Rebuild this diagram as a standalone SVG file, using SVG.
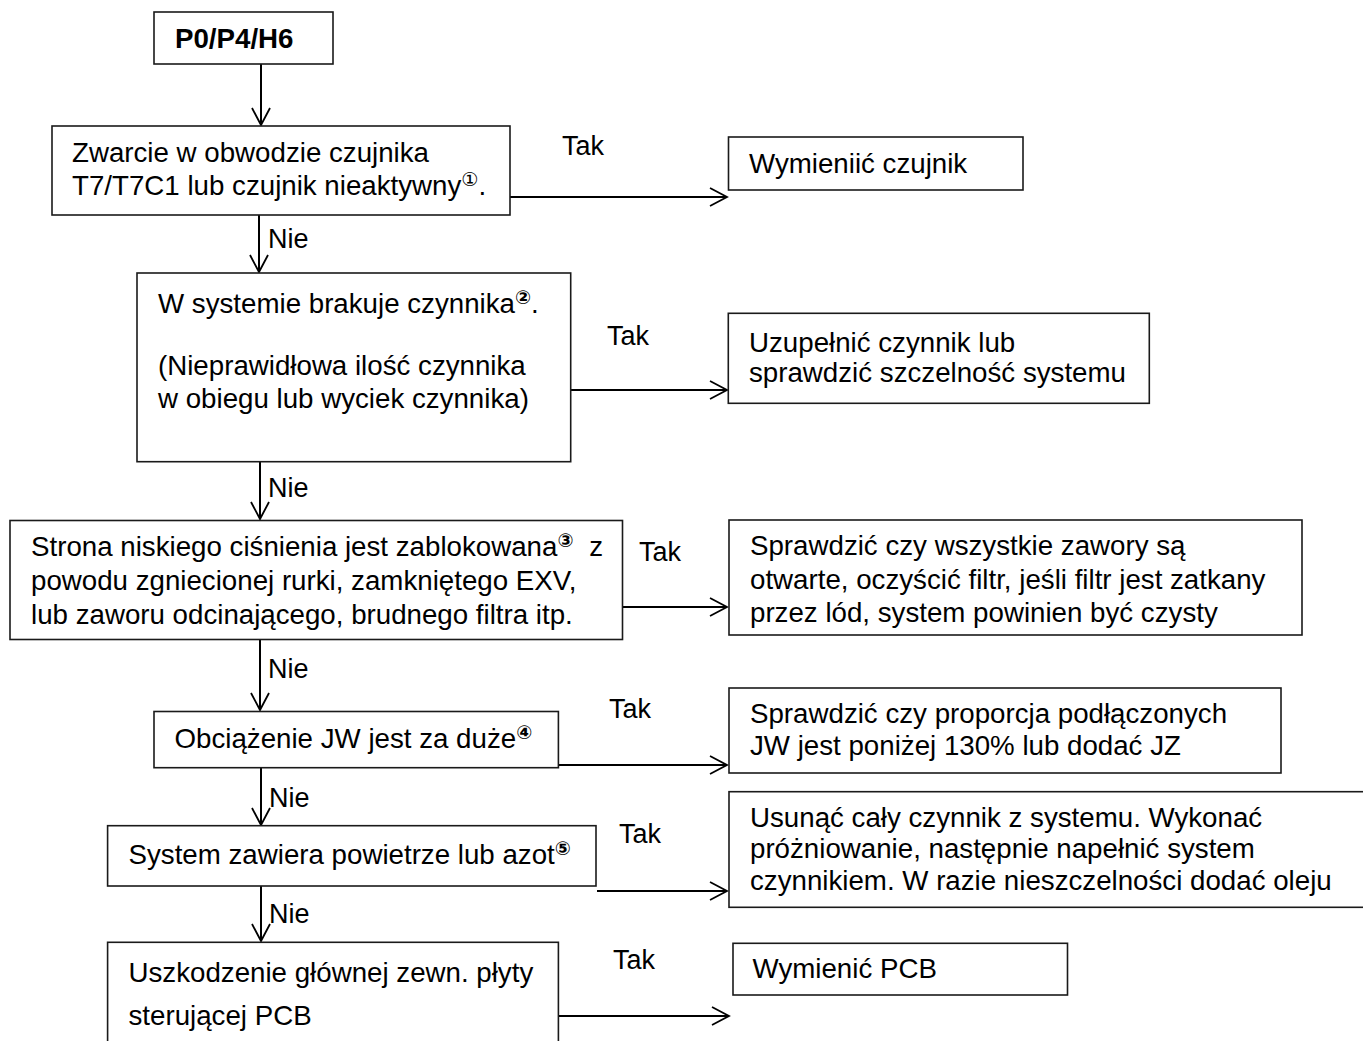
<svg xmlns="http://www.w3.org/2000/svg" width="1363" height="1041" viewBox="0 0 1363 1041">
  <style>
    .box { fill: #ffffff; stroke: #1a1a1a; stroke-width: 1.6; }
    .t { font-family: "Liberation Sans", Arial, "DejaVu Sans", sans-serif; font-size: 27.7px; fill: #000000; }
    .b { font-weight: bold; }
    .lbl { font-family: "Liberation Sans", Arial, sans-serif; font-size: 27px; fill: #000000; }
    .sup { font-family: "DejaVu Sans", "Noto Sans CJK JP", sans-serif; font-size: 19px; }
    .conn line { stroke: #000000; stroke-width: 2; marker-end: url(#arrow); }
  </style>
  <defs>
    <marker id="arrow" markerUnits="userSpaceOnUse" markerWidth="24" markerHeight="24" viewBox="-20 -12 24 24" refX="0" refY="0" orient="auto">
      <path d="M -17 -9 L 0 0 L -17 9" fill="none" stroke="#000000" stroke-width="1.8"/>
    </marker>
  </defs>
  <rect width="1363" height="1041" fill="#ffffff"/>

  <!-- connectors -->
  <g id="connectors" class="conn">
    <line x1="261" y1="64" x2="261" y2="125"/>
    <line x1="510" y1="197" x2="727" y2="197"/>
    <line x1="259" y1="215" x2="259" y2="272"/>
    <line x1="571" y1="390" x2="727" y2="390"/>
    <line x1="260" y1="462" x2="260" y2="519"/>
    <line x1="622" y1="607" x2="727" y2="607"/>
    <line x1="260" y1="640" x2="260" y2="710"/>
    <line x1="558" y1="765" x2="727" y2="765"/>
    <line x1="261" y1="768" x2="261" y2="825"/>
    <line x1="597" y1="891" x2="727" y2="891"/>
    <line x1="261" y1="886" x2="261" y2="941"/>
    <line x1="558" y1="1016" x2="729" y2="1016"/>
  </g>

  <!-- branch labels -->
  <g id="labels">
    <text class="lbl" x="562" y="155">Tak</text>
    <text class="lbl" x="268" y="248">Nie</text>
    <text class="lbl" x="607" y="345">Tak</text>
    <text class="lbl" x="268" y="497">Nie</text>
    <text class="lbl" x="639" y="561">Tak</text>
    <text class="lbl" x="268" y="678">Nie</text>
    <text class="lbl" x="609" y="718">Tak</text>
    <text class="lbl" x="269" y="807">Nie</text>
    <text class="lbl" x="619" y="843">Tak</text>
    <text class="lbl" x="269" y="923">Nie</text>
    <text class="lbl" x="613" y="969">Tak</text>
  </g>

  <g id="start">
    <rect class="box" x="154" y="12" width="179" height="52"/>
    <text class="t b" x="175" y="48">P0/P4/H6</text>
  </g>

  <g id="check-sensor">
    <rect class="box" x="52" y="126" width="458" height="89"/>
    <text class="t" x="72" y="162">Zwarcie w obwodzie czujnika</text>
    <text class="t" x="72" y="195">T7/T7C1 lub czujnik nieaktywny<tspan class="sup" dy="-9">①</tspan><tspan dy="9">.</tspan></text>
  </g>

  <g id="replace-sensor">
    <rect class="box" x="728.5" y="137" width="294.5" height="53"/>
    <text class="t" x="749" y="173">Wymieniić czujnik</text>
  </g>

  <g id="check-refrigerant">
    <rect class="box" x="137" y="273" width="433.7" height="188.7"/>
    <text class="t" x="158" y="313">W systemie brakuje czynnika<tspan class="sup b" dy="-9">②</tspan><tspan dy="9">.</tspan></text>
    <text class="t" x="158" y="375">(Nieprawidłowa ilość czynnika</text>
    <text class="t" x="158" y="408">w obiegu lub wyciek czynnika)</text>
  </g>

  <g id="refill">
    <rect class="box" x="728.3" y="313.3" width="421" height="90"/>
    <text class="t" x="749" y="351.5">Uzupełnić czynnik lub</text>
    <text class="t" x="749" y="381.5">sprawdzić szczelność systemu</text>
  </g>

  <g id="check-blockage">
    <rect class="box" x="10" y="520.5" width="612.5" height="119"/>
    <text class="t" x="31" y="556">Strona niskiego ciśnienia jest zablokowana<tspan class="sup b" dy="-9">③</tspan><tspan dx="8" dy="9"> z</tspan></text>
    <text class="t" x="31" y="590">powodu zgniecionej rurki, zamkniętego EXV,</text>
    <text class="t" x="31" y="624">lub zaworu odcinającego, brudnego filtra itp.</text>
  </g>

  <g id="open-valves">
    <rect class="box" x="729" y="520" width="573" height="115"/>
    <text class="t" x="750" y="555">Sprawdzić czy wszystkie zawory są</text>
    <text class="t" x="750" y="589">otwarte, oczyścić filtr, jeśli filtr jest zatkany</text>
    <text class="t" x="750" y="622">przez lód, system powinien być czysty</text>
  </g>

  <g id="check-load">
    <rect class="box" x="154" y="711.5" width="404.4" height="56.2"/>
    <text class="t" x="174.5" y="748">Obciążenie JW jest za duże<tspan class="sup b" dy="-9">④</tspan></text>
  </g>

  <g id="check-ratio">
    <rect class="box" x="729" y="688" width="552" height="85"/>
    <text class="t" x="750" y="723">Sprawdzić czy proporcja podłączonych</text>
    <text class="t" x="750" y="755">JW jest poniżej 130% lub dodać JZ</text>
  </g>

  <g id="check-air">
    <rect class="box" x="107.6" y="825.7" width="488.4" height="60.3"/>
    <text class="t" x="128.5" y="864">System zawiera powietrze lub azot<tspan class="sup b" dy="-9">⑤</tspan></text>
  </g>

  <g id="evacuate">
    <rect class="box" x="729" y="791.7" width="640" height="115.6"/>
    <text class="t" x="750" y="826.5">Usunąć cały czynnik z systemu. Wykonać</text>
    <text class="t" x="750" y="857.5">próżniowanie, następnie napełnić system</text>
    <text class="t" x="750" y="890">czynnikiem. W razie nieszczelności dodać oleju</text>
  </g>

  <g id="check-pcb">
    <rect class="box" x="107.6" y="942.3" width="450.8" height="120"/>
    <text class="t" x="128.5" y="982">Uszkodzenie głównej zewn. płyty</text>
    <text class="t" x="128.5" y="1025">sterującej PCB</text>
  </g>

  <g id="replace-pcb">
    <rect class="box" x="733" y="943.3" width="334.5" height="51.7"/>
    <text class="t" x="752.5" y="978">Wymienić PCB</text>
  </g>
</svg>
